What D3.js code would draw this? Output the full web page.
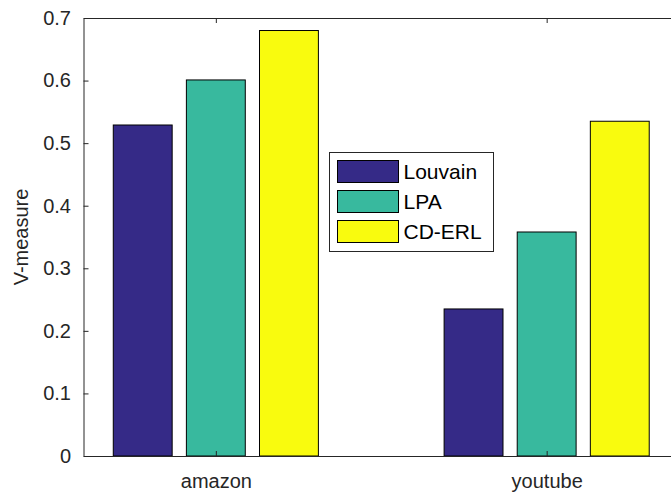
<!DOCTYPE html>
<html>
<head>
<meta charset="utf-8">
<script src="https://cdn.jsdelivr.net/npm/d3@7"></script>
<style>
  body { margin: 0; background: #fff; }
  svg { display: block; font-family: "Liberation Sans", Arial, sans-serif; }
</style>
</head>
<body>
<div id="chart"></div>
<script>
const categories = ['amazon', 'youtube']
const methods = ['Louvain', 'LPA', 'CD-ERL']
const louvain = [0.529, 0.235]
const lpa = [0.601, 0.358]
const cderl = [0.680, 0.535]
const yTicks = [0, 0.1, 0.2, 0.3, 0.4, 0.5, 0.6, 0.7]
const colors = ['#352a87', '#38b99e', '#f9fb0e']

const series = [louvain, lpa, cderl]

let width = 671
let height = 492
let margin = { top: 18, left: 83.5, right: -8, bottom: 36 }

let svg = d3
  .select('#chart')
  .append('svg')
  .attr('width', width)
  .attr('height', height)

// x in MATLAB units: categories at 1, 2
let x = d3
  .scaleLinear()
  .domain([0.6, 2.4])
  .range([margin.left, width - margin.right])

let y = d3
  .scaleLinear()
  .domain([0, 0.7])
  .range([height - margin.bottom, margin.top])

let barW = 0.178
let step = 0.221

let axisColor = '#262626'

// bars
series.forEach((vals, si) => {
  svg
    .selectAll('.bar-' + si)
    .data(vals)
    .enter()
    .append('rect')
    .attr('class', 'bar-' + si)
    .attr('x', (d, i) => x(i + 1 + (si - 1) * step - barW / 2))
    .attr('width', x(barW) - x(0))
    .attr('y', d => y(d))
    .attr('height', d => y(0) - y(d))
    .attr('fill', colors[si])
    .attr('stroke', '#000')
    .attr('stroke-width', 1)
})

// axes box
let x0 = x.range()[0], x1 = x.range()[1]
let y0 = y.range()[0], y1 = y.range()[1]

let yAxis = d3
  .axisLeft(y)
  .tickValues(yTicks)
  .tickFormat(d => d3.format('')(d))
  .tickSizeInner(-5)
  .tickSizeOuter(0)
  .tickPadding(12.5)

let gy = svg.append('g').attr('transform', `translate(${x0},0)`).call(yAxis)
gy.select('.domain').attr('stroke', axisColor)
gy.selectAll('.tick line').attr('stroke', axisColor)
gy.selectAll('.tick text')
  .attr('fill', axisColor)
  .attr('font-size', 20)

let xAxis = d3
  .axisBottom(x)
  .tickValues([1, 2])
  .tickFormat((d, i) => categories[i])
  .tickSizeInner(-5)
  .tickSizeOuter(0)
  .tickPadding(18)

let gx = svg.append('g').attr('transform', `translate(0,${y0})`).call(xAxis)
gx.select('.domain').attr('stroke', axisColor)
gx.selectAll('.tick line').attr('stroke', axisColor)
gx.selectAll('.tick text')
  .attr('fill', axisColor)
  .attr('font-size', 20)

// top axis with ticks
let gt = svg
  .append('g')
  .attr('transform', `translate(0,${y1})`)
  .call(d3.axisTop(x).tickValues([1, 2]).tickFormat('').tickSizeInner(-5).tickSizeOuter(0))
gt.select('.domain').attr('stroke', axisColor)
gt.selectAll('.tick line').attr('stroke', axisColor)

// y label
svg
  .append('text')
  .attr('transform', `translate(20.5,${(y0 + y1) / 2}) rotate(-90)`)
  .attr('text-anchor', 'middle')
  .attr('dy', '0.35em')
  .attr('font-size', 20)
  .attr('fill', axisColor)
  .text('V-measure')

// legend
let legend = svg.append('g').attr('transform', 'translate(329.5,152.5)')

legend
  .append('rect')
  .attr('width', 164)
  .attr('height', 99)
  .attr('fill', '#fff')
  .attr('stroke', axisColor)

legend
  .selectAll('.legend-entry')
  .data(methods)
  .enter()
  .append('g')
  .attr('class', 'legend-entry')
  .attr('transform', (d, i) => `translate(8,${8 + i * 30})`)
  .each(function(d, i) {
    let g = d3.select(this)
    g.append('rect')
      .attr('width', 61)
      .attr('height', 22)
      .attr('fill', colors[i])
      .attr('stroke', '#000')
    g.append('text')
      .attr('x', 66)
      .attr('y', 11)
      .attr('dy', '0.35em')
      .attr('font-size', 21)
      .attr('fill', '#000')
      .text(d)
  })
</script>
</body>
</html>
